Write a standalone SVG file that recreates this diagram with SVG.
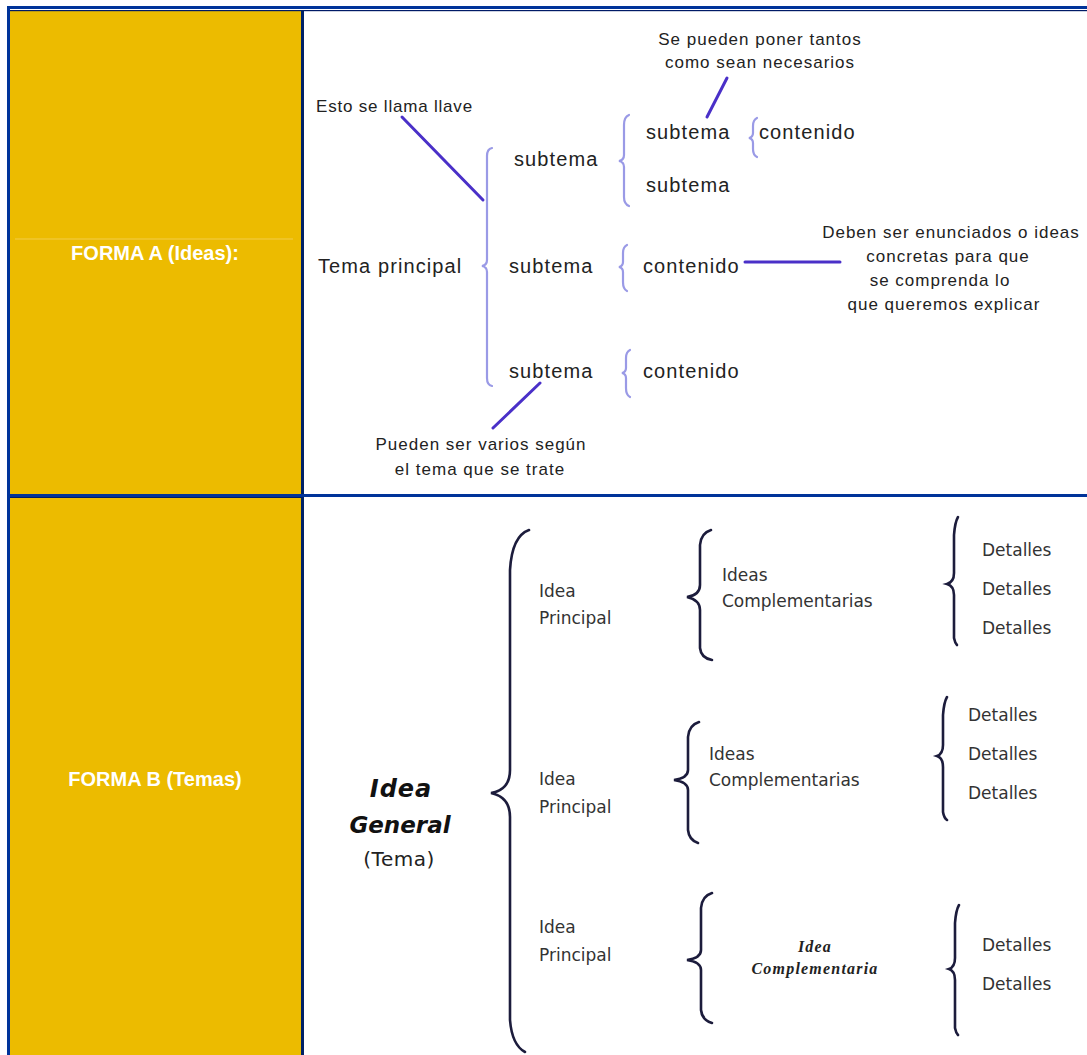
<svg xmlns="http://www.w3.org/2000/svg" width="1087" height="1055" viewBox="0 0 1087 1055">
<style>
.cell{fill:#ECBB00}
.lbl{font-family:"Liberation Sans",Arial,sans-serif;font-weight:bold;font-size:20px;fill:#ffffff;text-anchor:middle}
.ta{font-family:"Liberation Sans",Arial,sans-serif;font-size:20px;letter-spacing:1.1px;fill:#222}
.tn{font-family:"Liberation Sans",Arial,sans-serif;font-size:17px;letter-spacing:0.8px;fill:#222}
.tnc{font-family:"Liberation Sans",Arial,sans-serif;font-size:17px;letter-spacing:1px;fill:#222;text-anchor:middle}
.tb{font-family:"DejaVu Sans",sans-serif;font-size:17px;fill:#333}
.br1{fill:none;stroke:#9a9ae6;stroke-width:2.2;stroke-linecap:round}
.br2{fill:none;stroke:#1c1c3c;stroke-width:2.6;stroke-linecap:round}
.pt{stroke:#4a30c8;stroke-width:3;stroke-linecap:round}
</style>
<rect x="0" y="0" width="1087" height="1055" fill="#ffffff"/>
<!-- table -->
<g id="table">
<rect class="cell" x="10" y="10" width="291" height="485"/>
<rect class="cell" x="10" y="497" width="291" height="558"/>
<line x1="15" y1="239" x2="293" y2="239" stroke="#f2cc4a" stroke-width="1"/>
<rect x="7" y="6" width="1080" height="3" fill="#003399"/>
<rect x="10" y="10" width="1077" height="1.2" fill="#001a66"/>
<rect x="7" y="6" width="3" height="1049" fill="#003399"/>
<rect x="301" y="10" width="3" height="1045" fill="#002266"/>
<rect x="7" y="494" width="1080" height="3" fill="#003399"/>
<rect x="10" y="497" width="291" height="1" fill="#001a66"/>
</g>
<g id="formaA-label"><text class="lbl" x="155" y="260">FORMA A (Ideas):</text></g>
<g id="formaB-label"><text class="lbl" x="155" y="786">FORMA B (Temas)</text></g>

<!-- Forma A -->
<g id="a-tema"><text class="ta" x="318" y="273">Tema principal</text></g>
<g id="a-note-llave"><text class="tn" x="316" y="112">Esto se llama llave</text></g>
<g id="a-note-tantos"><text class="tnc" x="760" y="45">Se pueden poner tantos</text><text class="tnc" x="760" y="68">como sean necesarios</text></g>
<g id="a-note-deben"><text class="tnc" x="951" y="238">Deben ser enunciados o ideas</text><text class="tnc" x="948" y="262">concretas para que</text><text class="tnc" x="940" y="286">se comprenda lo</text><text class="tnc" x="944" y="310">que queremos explicar</text></g>
<g id="a-note-varios"><text class="tnc" x="481" y="450">Pueden ser varios según</text><text class="tnc" x="480" y="475">el tema que se trate</text></g>
<g id="a-sub1"><text class="ta" x="514" y="166">subtema</text></g>
<g id="a-sub1a"><text class="ta" x="646" y="139">subtema</text></g>
<g id="a-sub1b"><text class="ta" x="646" y="192">subtema</text></g>
<g id="a-cont1"><text class="ta" x="759" y="139">contenido</text></g>
<g id="a-sub2"><text class="ta" x="509" y="273">subtema</text></g>
<g id="a-cont2"><text class="ta" x="643" y="273">contenido</text></g>
<g id="a-sub3"><text class="ta" x="509" y="378">subtema</text></g>
<g id="a-cont3"><text class="ta" x="643" y="378">contenido</text></g>

<!-- Forma B -->
<g id="b-general">
<text x="401" y="797" text-anchor="middle" style="font-family:'DejaVu Sans',sans-serif;font-weight:bold;font-style:italic;font-size:24px;letter-spacing:1px;fill:#111">Idea</text>
<text x="400" y="833" text-anchor="middle" style="font-family:'DejaVu Sans',sans-serif;font-weight:bold;font-style:italic;font-size:23px;fill:#111">General</text>
<text x="399" y="866" text-anchor="middle" style="font-family:'DejaVu Sans',sans-serif;font-size:20px;letter-spacing:0.5px;fill:#222">(Tema)</text>
</g>
<g id="b-ip1"><text class="tb" x="539" y="597">Idea</text><text class="tb" x="539" y="624">Principal</text></g>
<g id="b-ip2"><text class="tb" x="539" y="785">Idea</text><text class="tb" x="539" y="813">Principal</text></g>
<g id="b-ip3"><text class="tb" x="539" y="933">Idea</text><text class="tb" x="539" y="961">Principal</text></g>
<g id="b-ic1"><text class="tb" x="722" y="581">Ideas</text><text class="tb" x="722" y="607">Complementarias</text></g>
<g id="b-ic2"><text class="tb" x="709" y="760">Ideas</text><text class="tb" x="709" y="786">Complementarias</text></g>
<g id="b-ic3"><text x="815" y="952" text-anchor="middle" style="font-family:'Liberation Serif',serif;font-weight:bold;font-style:italic;font-size:16px;letter-spacing:1.2px;fill:#222">Idea</text><text x="815" y="974" text-anchor="middle" style="font-family:'Liberation Serif',serif;font-weight:bold;font-style:italic;font-size:16px;letter-spacing:1.2px;fill:#222">Complementaria</text></g>
<g id="b-det1"><text class="tb" x="982" y="556">Detalles</text><text class="tb" x="982" y="595">Detalles</text><text class="tb" x="982" y="634">Detalles</text></g>
<g id="b-det2"><text class="tb" x="968" y="721">Detalles</text><text class="tb" x="968" y="760">Detalles</text><text class="tb" x="968" y="799">Detalles</text></g>
<g id="b-det3"><text class="tb" x="982" y="951">Detalles</text><text class="tb" x="982" y="990">Detalles</text></g>

<!-- connectors: braces and pointer lines -->
<g id="connectors">
<path class="br1" d="M492,148 Q487,149 487,156 L487,260 Q487,265 482,266 Q487,267 487,272 L487,378 Q487,385 492,386"/>
<path class="br1" d="M629,115 Q624,117 624,125 L624,155 Q624,160 619,161 Q624,162 624,167 L624,197 Q624,204 629,206"/>
<path class="br1" d="M757,118 Q753,120 753,126 L753,133 Q753,137 749,138 Q753,139 753,143 L753,149 Q753,155 757,157"/>
<path class="br1" d="M627,245 Q623,247 623,253 L623,262 Q623,266 619,267 Q623,268 623,272 L623,282 Q623,289 627,291"/>
<path class="br1" d="M630,350 Q626,352 626,358 L626,368 Q626,372 622,373 Q626,374 626,378 L626,388 Q626,395 630,397"/>
<line class="pt" x1="402" y1="117" x2="483" y2="200"/>
<line class="pt" x1="707" y1="117" x2="727" y2="78"/>
<line class="pt" x1="745" y1="262" x2="840" y2="262"/>
<line class="pt" x1="540" y1="383" x2="493" y2="428"/>

<path class="br2" d="M529,530 Q512,536 510,570 L510,770 Q510,790 491,793 Q510,797 510,817 L510,1020 Q512,1045 525,1052"/>
<path class="br2" d="M711,530 Q701,533 700,545 L700,585 Q700,595 687,597 Q700,600 700,610 L700,648 Q701,658 712,660"/>
<path class="br2" d="M958,517 Q955,522 954,535 L954,573 Q954,582 947,584 Q954,586 954,595 L954,638 Q955,643 957,645"/>
<path class="br2" d="M699,722 Q689,725 688,737 L688,770 Q688,778 674,780 Q688,782 688,790 L688,830 Q689,840 698,843"/>
<path class="br2" d="M947,697 Q944,702 943,715 L943,745 Q943,754 937,756 Q943,758 943,767 L943,812 Q944,818 947,820"/>
<path class="br2" d="M712,893 Q702,896 701,908 L701,950 Q701,958 687,960 Q701,962 701,970 L701,1010 Q702,1020 712,1023"/>
<path class="br2" d="M959,905 Q956,910 955,923 L955,958 Q955,967 949,969 Q955,971 955,980 L955,1028 Q956,1033 958,1035"/>
</g>
</svg>
